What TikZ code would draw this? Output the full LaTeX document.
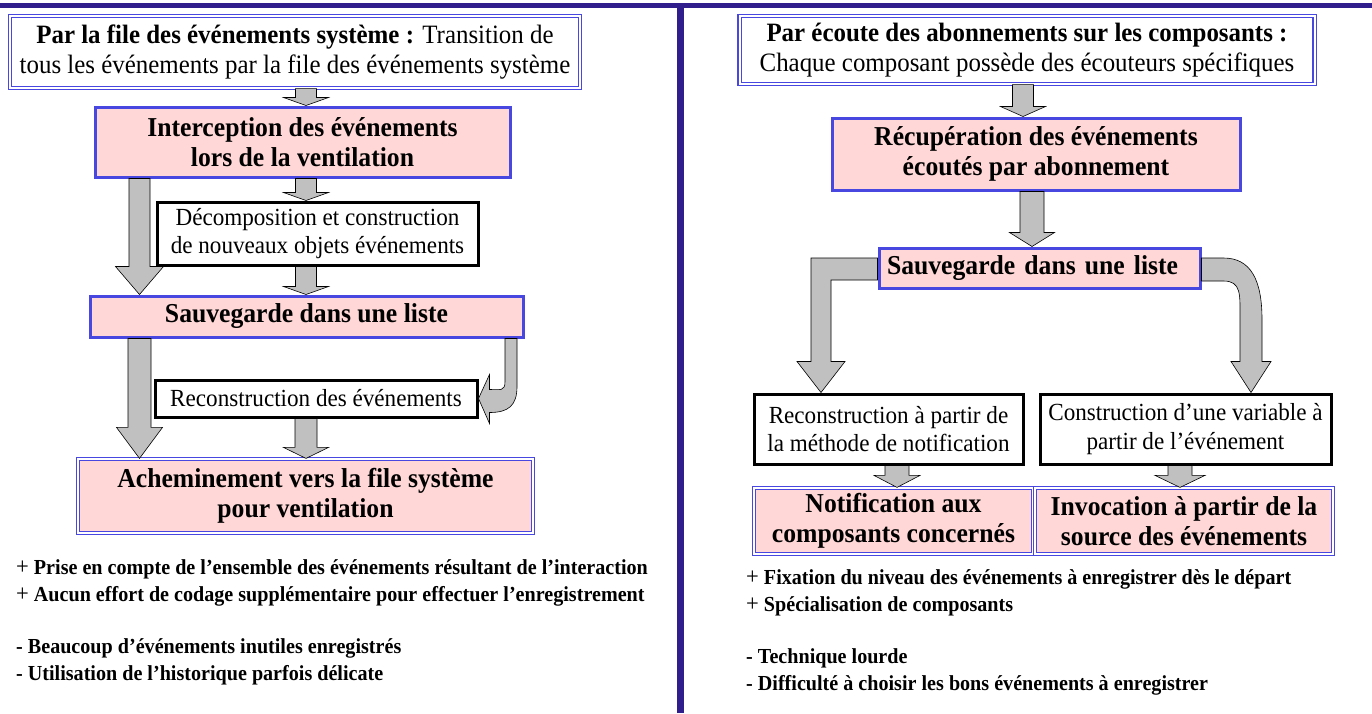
\documentclass[tikz,border=0pt]{standalone}
\usepackage{fontspec}
\setmainfont{Liberation Serif}[FakeStretch=0.94]
\usetikzlibrary{calc}
\definecolor{barnavy}{RGB}{48,30,140}
\definecolor{bordblue}{RGB}{72,72,224}
\definecolor{boxpink}{RGB}{255,215,215}
\definecolor{arrowgray}{RGB}{192,192,192}

% fat gray arrow pointing down, from #1 to #2
% #3 half shaft, #4 half head, #5 head length
\newcommand{\fatarrow}[5]{%
  \draw[grayarrow] let \p1=#1, \p2=#2 in
    (\x1-#3,\y1) -- (\x1+#3,\y1) -- (\x1+#3,\y2+#5) -- (\x1+#4,\y2+#5)
    -- (\x1,\y2) -- (\x1-#4,\y2+#5) -- (\x1-#3,\y2+#5) -- cycle;}
\newcommand{\plus}{{\mdseries\fontsize{24}{27}\selectfont +}}

\begin{document}
\begin{tikzpicture}[x=1pt,y=-1pt,
    boxtext/.style={align=center,inner sep=0pt,font=\fontsize{24.6}{28.5}\selectfont},
    titlebox/.style={boxtext,draw=bordblue,double=white,double distance=2pt,line width=1.2pt,fill=white,font=\fontsize{26.5}{29.5}\selectfont},
    pinkbox/.style={boxtext,draw=bordblue,line width=3pt,fill=boxpink,font=\fontsize{27.3}{30}\selectfont\bfseries},
    pinkdouble/.style={pinkbox,line width=1.2pt,double=white,double distance=2pt},
    plainbox/.style={boxtext,draw=black,line width=3pt,fill=white},
    grayarrow/.style={draw=black,line width=0.6pt,fill=arrowgray,line join=miter},
    bullets/.style={align=left,anchor=west,inner sep=0pt,font=\fontsize{21.4}{27}\selectfont\bfseries}]

  \useasboundingbox (0,0) rectangle (1372,713);
  \fill[white] (0,0) rectangle (1372,713);

  % frame
  \fill[barnavy] (0,3) rectangle (1372,8);
  \fill[barnavy] (677,3) rectangle (684,713);

  % left column
  \node[titlebox,minimum width=570,minimum height=72] (A) at (295,52)
    {\textbf{Par la file des événements système :} Transition de\\tous les événements par la file des événements système};
  \node[pinkbox,minimum width=415,minimum height=70] (B) at (302.5,142)
    {Interception des événements\\lors de la ventilation};
  \node[plainbox,minimum width=321,minimum height=63] (C) at (317.5,233.5)
    {Décomposition et construction\\de nouveaux objets événements};
  \node[pinkbox,minimum width=433,minimum height=41] (D) at (306.5,316.5)
    {Sauvegarde dans une liste};
  \node[plainbox,minimum width=322,minimum height=37] (E) at (316,398.5)
    {Reconstruction des événements};
  \node[pinkdouble,minimum width=455,minimum height=74] (F) at (305.5,496)
    {Acheminement vers la file système\\pour ventilation};

  \coordinate (midL) at (306,0);
  \coordinate (farL) at (139.5,0);
  \coordinate (curL) at (511,0);
  \fatarrow{(A.south -| midL)}{(B.north -| midL)}{10.5pt}{22.5pt}{8pt}
  \fatarrow{(B.south -| midL)}{(C.north -| midL)}{10.5pt}{22.5pt}{8pt}
  \fatarrow{(C.south -| midL)}{(D.north -| midL)}{10.5pt}{22.5pt}{8pt}
  \fatarrow{(E.south -| midL)}{(F.north -| midL)}{11pt}{22.5pt}{11pt}
  \fatarrow{(B.south -| farL)}{(D.north -| farL)}{10.5pt}{24pt}{28pt}
  \fatarrow{(D.south -| farL)}{(F.north -| farL)}{11.5pt}{23pt}{31pt}
  \draw[grayarrow] ($(D.south -| curL)+(-6,0)$) -- ++(0,43)
    .. controls +(0,10) and +(11,0) .. ($(E.east)+(11,-9)$) -- ++(0,-15)
    -- (E.east) -- ++(11,25) -- ++(0,-11)
    .. controls +(19,0) and +(0,19) .. ($(D.south -| curL)+(6,48)$)
    -- ($(D.south -| curL)+(6,0)$) -- cycle;

  % right column
  \node[titlebox,minimum width=575,minimum height=68] (G) at (1027,50)
    {\textbf{Par écoute des abonnements sur les composants :}\\Chaque composant possède des écouteurs spécifiques};
  \node[pinkbox,minimum width=408,minimum height=72] (H) at (1036,154)
    {Récupération des événements\\écoutés par abonnement};
  \node[pinkbox,minimum width=321,minimum height=40,text width=305pt,inner xsep=8pt,align=left] (I) at (1039.5,268)
    {Sauvegarde dans une liste};
  \node[plainbox,minimum width=269,minimum height=70] (J) at (888.5,429)
    {Reconstruction à partir de\\la méthode de notification};
  \node[plainbox,minimum width=291,minimum height=70] (K) at (1185.5,429)
    {Construction d’une variable à\\partir de l’événement};
  \node[pinkdouble,minimum width=279,minimum height=66] (L) at (893.5,521)
    {Notification aux\\composants concernés};
  \node[pinkdouble,minimum width=298,minimum height=66] (M) at (1184,521)
    {Invocation à partir de la\\source des événements};

  \coordinate (colG) at (1023,0);
  \coordinate (colH) at (1032,0);
  \coordinate (colJ) at (821,0);
  \coordinate (colK) at (1251,0);
  \coordinate (colJL) at (897,0);
  \coordinate (colKM) at (1180,0);
  \fatarrow{(G.south -| colG)}{(H.north -| colG)}{10.5pt}{22.5pt}{10pt}
  \fatarrow{(H.south -| colH)}{(I.north -| colH)}{12pt}{22.5pt}{14pt}
  \fatarrow{(J.south -| colJL)}{(L.north -| colJL)}{12pt}{23pt}{12pt}
  \fatarrow{(K.south -| colKM)}{(M.north -| colKM)}{12pt}{25pt}{12pt}
  \draw[grayarrow] ($(I.west)+(0,-10)$) -- ($(I.west -| colJ)+(-10,-10)$)
    -- ($(J.north -| colJ)+(-10,-31)$) -- ++(-14,0) -- (J.north -| colJ)
    -- ++(24,-31) -- ++(-14,0) -- ($(I.west -| colJ)+(10,12)$)
    -- ($(I.west)+(0,12)$) -- cycle;
  \draw[grayarrow] ($(I.east)+(0,-10)$) -- ++(22,0)
    .. controls +(27,0) and +(0,-40) .. ($(K.north -| colK)+(11,-73)$)
    -- ($(K.north -| colK)+(11,-31)$) -- ++(9,0) -- (K.north -| colK)
    -- ++(-20,-31) -- ++(9,0) -- ($(K.north -| colK)+(-11,-73)$)
    .. controls +(0,-25) and +(18,0) .. ($(I.east)+(22,13)$)
    -- ($(I.east)+(0,13)$) -- cycle;

  % pros and cons
  \node[bullets] (prosL) at (16,622)
    {\plus{} Prise en compte de l’ensemble des événements résultant de l’interaction\\
     \plus{} Aucun effort de codage supplémentaire pour effectuer l’enregistrement\\[25pt]
     - Beaucoup d’événements inutiles enregistrés\\
     - Utilisation de l’historique parfois délicate};
  \node[bullets] (prosR) at (746,632)
    {\plus{} Fixation du niveau des événements à enregistrer dès le départ\\
     \plus{} Spécialisation de composants\\[25pt]
     - Technique lourde\\
     - Difficulté à choisir les bons événements à enregistrer};
\end{tikzpicture}
\end{document}
